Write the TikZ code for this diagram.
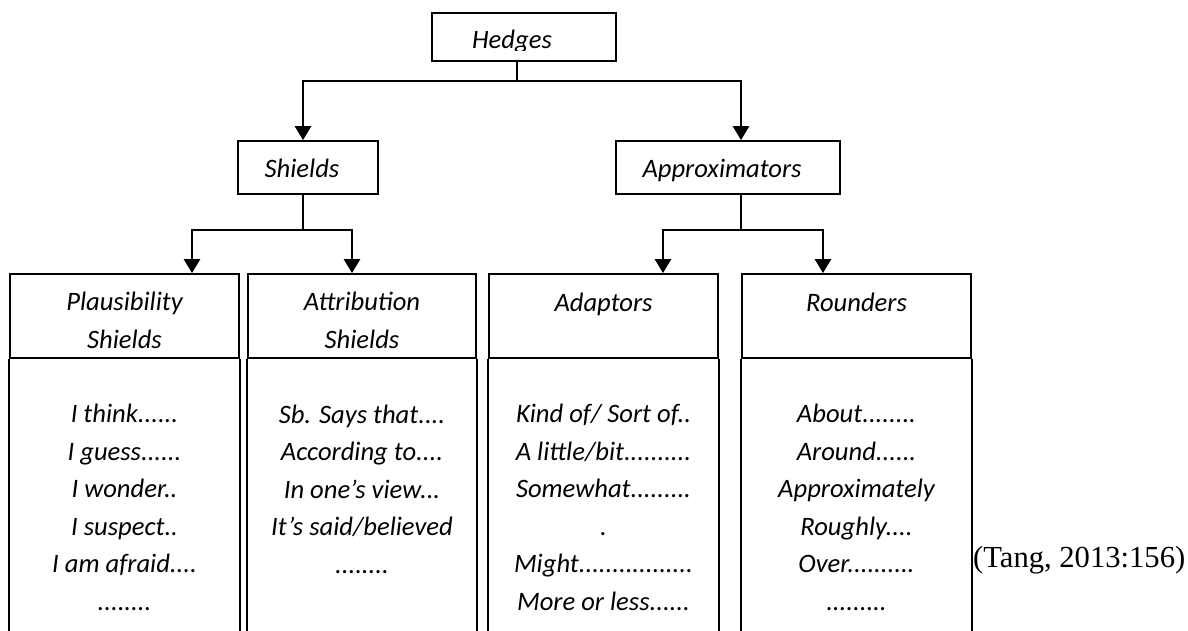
\documentclass[tikz,border=0pt]{standalone}
\usepackage{fontspec}
\setmainfont{Carlito}
\newfontfamily\timesf{Liberation Serif}
\usetikzlibrary{arrows.meta}
\begin{document}
\begin{tikzpicture}[x=1pt,y=-1pt,
  box/.style={draw, line width=1.7pt, inner sep=0pt},
  lbl/.style={font=\fontsize{26.6}{37.5}\selectfont\itshape, align=center, inner sep=0pt},
  arr/.style={line width=2.4pt, -{Triangle[width=16pt,length=14pt]}},
  stem/.style={line width=1.6pt},
  side/.style={line width=1.7pt}]
\useasboundingbox (0,0) rectangle (1188,631);
% top level
\node[box, minimum width=184pt, minimum height=48pt] (hedges) at (524,37) {};
\begin{scope}
  \clip (432,13) rectangle (616,51);
  \node[lbl, anchor=base] (thedges) at (512,49) {Hedges};
\end{scope}
% second level
\node[box, minimum width=140pt, minimum height=53pt] (shields) at (308,167.5) {};
\node[lbl, anchor=base] (tshields) at (302,178) {Shields};
\node[box, minimum width=224pt, minimum height=53pt] (approx) at (728,167.5) {};
\node[lbl, anchor=base] (tapprox) at (722,178) {Approximators};
% bottom headers
\node[box, minimum width=229pt, minimum height=84pt] (b1) at (124.5,316) {};
\node[box, minimum width=228pt, minimum height=84pt] (b2) at (362,316) {};
\node[box, minimum width=229pt, minimum height=84pt] (b3) at (603.5,316) {};
\node[box, minimum width=229pt, minimum height=84pt] (b4) at (856.5,316) {};
\node[lbl, anchor=base] (t1) at (124.5,348) {Plausibility\\Shields};
\node[lbl, anchor=base] (t2) at (362,348) {Attribution\\Shields};
\node[lbl, anchor=base] (t3) at (603.5,311) {Adaptors};
\node[lbl, anchor=base] (t4) at (856.5,311) {Rounders};
% box sides
\foreach \b in {b1,b2,b3,b4}{
  \coordinate (\b L) at (\b.south west |- 0,631);
  \coordinate (\b R) at (\b.south east |- 0,631);
  \draw[side] (\b.south west) -- (\b L);
  \draw[side] (\b.south east) -- (\b R);
}
% lists (base anchor = baseline of the last line)
\node[lbl, anchor=base] (l1) at (124.5,610) {I think......\\I guess......\\I wonder..\\I suspect..\\I am afraid....\\........};
\node[lbl, anchor=base] (l2) at (362,573) {Sb. Says that....\\According to....\\In one’s view...\\It’s said/believed\\........};
\node[lbl, anchor=base] (l3) at (603.5,610) {Kind of/ Sort of..\\A little/bit..........\\Somewhat.........\\.\\Might.................\\More or less......};
\node[lbl, anchor=base] (l4) at (856.5,610) {About........\\Around......\\Approximately\\Roughly....\\Over..........\\.........};
% citation
\node[font=\timesf\fontsize{30.6}{36}\selectfont, anchor=base west, inner sep=0pt] (cite) at (973,567) {(Tang, 2013:156)};
% connectors
\coordinate (j0) at (517,81);
\coordinate (j1) at (303,230);
\coordinate (j2) at (741,230);
\draw[stem] ([xshift=-7pt]hedges.south) -- (j0);
\draw[arr] (j0) -| ([xshift=-5pt]shields.north);
\draw[arr] (j0) -| ([xshift=13pt]approx.north);
\draw[stem] ([xshift=-5pt]shields.south) -- (j1);
\draw[arr] (j1) -| ([xshift=67.5pt]b1.north);
\draw[arr] (j1) -| ([xshift=-10pt]b2.north);
\draw[stem] ([xshift=13pt]approx.south) -- (j2);
\draw[arr] (j2) -| ([xshift=59.5pt]b3.north);
\draw[arr] (j2) -| ([xshift=-33.5pt]b4.north);
\end{tikzpicture}
\end{document}
